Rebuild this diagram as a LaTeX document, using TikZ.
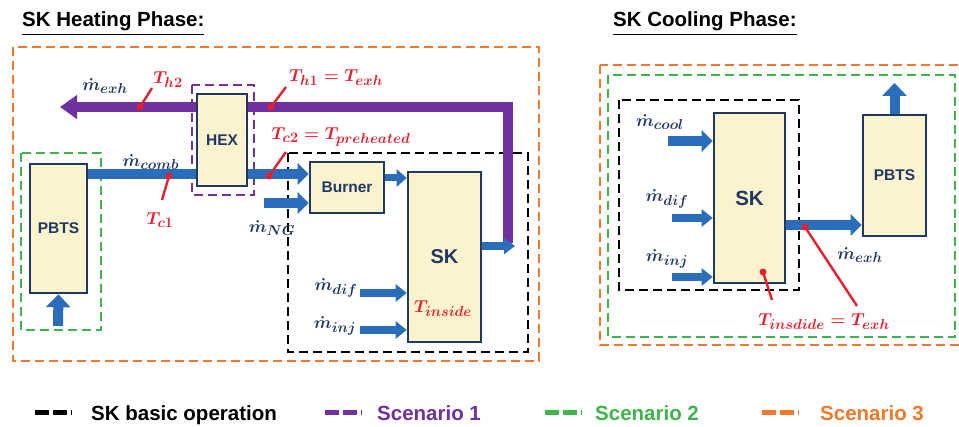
\documentclass[tikz,border=0pt]{standalone}
\usepackage{amsmath,bm}
\usepackage[no-math]{fontspec}
\setmainfont{Liberation Sans}
\DeclareMathSizes{18}{18}{13.5}{10}
\usetikzlibrary{arrows.meta}
\definecolor{navy}{HTML}{1F3864}
\definecolor{boxfill}{HTML}{FBF3CD}
\definecolor{flowblue}{HTML}{2A6EBB}
\definecolor{exhpurple}{HTML}{7030A0}
\definecolor{tred}{HTML}{E5202E}
\definecolor{sc3orange}{HTML}{F4782A}
\definecolor{sc2green}{HTML}{3DB54A}
\tikzset{
  unit/.style={draw=navy, line width=2.6pt, fill=boxfill, text=navy,
    font=\bfseries\fontsize{15.5}{17}\selectfont, inner sep=0pt},
  bigflow/.style={draw=flowblue, line width=10pt, -{Triangle[length=11pt,width=21pt]}},
  midflow/.style={draw=flowblue, line width=8pt, -{Triangle[length=11pt,width=17pt]}},
  plainflow/.style={draw=flowblue, line width=10pt},
  upflow/.style={draw=flowblue, line width=10pt, -{Triangle[length=13pt,width=24pt]}},
  scen/.style={line width=2.8pt, dash pattern=on 9pt off 5pt},
  pin/.style={draw=tred, line width=2.4pt},
  pindot/.style={fill=tred, circle, inner sep=0pt, minimum size=7pt},
  mlab/.style={text=navy, font=\fontsize{18}{20}\selectfont\boldmath, inner sep=0pt},
  tlab/.style={text=tred, font=\fontsize{18}{20}\selectfont\boldmath, inner sep=0pt},
  title/.style={font=\bfseries\fontsize{20.5}{22}\selectfont, inner sep=0pt, anchor=base west},
  legtext/.style={font=\bfseries\fontsize{20.5}{22}\selectfont, inner sep=0pt, anchor=base west},
  legdash/.style={line width=5pt, dash pattern=on 14pt off 4pt}
}
\begin{document}
\begin{tikzpicture}[x=1pt,y=-1pt]
\useasboundingbox (0,0) rectangle (959,427);
\fill[white] (0,0) rectangle (959,427);

% titles
\node[title] (th) at (22,27) {\underline{SK Heating Phase:}};
\node[title] (tc) at (613,27) {\underline{SK Cooling Phase:}};

% ================= HEATING =================
\draw[scen, sc3orange] (13,47) rectangle (539,361);
\draw[scen, sc2green] (21,153) rectangle (101,330);
\draw[scen, black] (288,153) rectangle (528,352);

% exhaust (purple) line
\coordinate (exA) at (508,243);
\coordinate (exB) at (508,107);
\coordinate (exEnd) at (60,107);
\draw[exhpurple, line width=10pt, line join=miter, -{Triangle[length=17pt,width=23pt]}]
  (exA) -- (exB) -- (exEnd);

% units
\node[unit, minimum width=57pt, minimum height=129pt] (pbtsH) at (58.5,228.5) {PBTS};
\node[unit, minimum width=50pt, minimum height=92pt] (hex) at (222,140) {HEX};
\node[unit, minimum width=74pt, minimum height=51pt] (burner) at (347,187.5) {Burner};
\node[unit, minimum width=73pt, minimum height=170pt] (skH) at (444.5,257) {};
\node[text=navy, font=\bfseries\fontsize{20}{22}\selectfont] (skHt) at (444.5,257) {SK};
\node[tlab] (tin) at (443,309) {$T_{inside}$};

\draw[scen, exhpurple] (192,85) rectangle (254,195);

% flows
\draw[plainflow] (pbtsH.east |- 0,174) -- (hex.west |- 0,174);
\draw[bigflow] (hex.east |- 0,174) -- (burner.west |- 0,174);
\coordinate (ngS) at (264,203);
\draw[bigflow] (ngS) -- (burner.west |- ngS);
\draw[draw=flowblue, line width=7pt, -{Triangle[length=10pt,width=17pt]}] (burner.east |- 0,178) -- (skH.west |- 0,178);
\coordinate (exhOut) at (515,246);
\draw[draw=flowblue, line width=8pt, -{Triangle[length=11pt,width=16pt]}] (skH.east |- exhOut) -- (exhOut);
\coordinate (difH) at (360,293);
\coordinate (injH) at (360,330);
\draw[midflow] (difH) -- (skH.west |- difH);
\draw[midflow] (injH) -- (skH.west |- injH);
\coordinate (pbtsIn) at (58,326);
\draw[upflow] (pbtsIn) -- (pbtsH.south);

% flow labels
\node[mlab] (lmexh) at (105,86) {$\dot m_{exh}$};
\node[mlab] (lmcomb) at (151,162) {$\dot m_{comb}$};
\node[mlab] (lmng) at (272,228) {$\dot m_{NG}$};
\node[mlab] (lmdif) at (336,288) {$\dot m_{dif}$};
\node[mlab] (lminj) at (335,326) {$\dot m_{inj}$};

% temperature pins
\node[pindot] (dh2) at (140,107) {};
\node[pindot] (dh1) at (271,107) {};
\node[pindot] (dc2) at (269,176) {};
\node[pindot] (dc1) at (169,176) {};
\coordinate (ph2) at (152,88);
\coordinate (ph1) at (286,87);
\coordinate (pc2) at (286,152);
\coordinate (pc1) at (162,200);
\draw[pin] (dh2.center) -- (ph2);
\draw[pin] (dh1.center) -- (ph1);
\draw[pin] (dc2.center) -- (pc2);
\draw[pin] (dc1.center) -- (pc1);
\node[tlab] (lth2) at (168,80) {$T_{h2}$};
\node[tlab] (lth1) at (336,78) {$T_{h1} = T_{exh}$};
\node[tlab] (ltc2) at (341,137) {$T_{c2} = T_{preheated}$};
\node[tlab] (ltc1) at (160,220) {$T_{c1}$};

% ================= COOLING =================
\draw[scen, sc3orange] (600,65) rectangle (968,345);
\draw[scen, sc2green] (608,75) rectangle (955,337);
\draw[scen, black] (619,100) rectangle (799,290);

\node[unit, minimum width=71pt, minimum height=170pt] (skC) at (749.5,198) {};
\node[text=navy, font=\bfseries\fontsize{20.5}{22}\selectfont] (skCt) at (749.5,198) {SK};
\node[unit, minimum width=63pt, minimum height=121pt] (pbtsC) at (894.5,175.5) {PBTS};

\coordinate (coolS) at (668,141);
\coordinate (difS) at (672,218);
\coordinate (injS) at (672,277);
\draw[bigflow] (coolS) -- (skC.west |- coolS);
\draw[midflow] (difS) -- (skC.west |- difS);
\draw[midflow] (injS) -- (skC.west |- injS);
\draw[bigflow] (skC.east |- 0,225) -- (pbtsC.west |- 0,225);
\coordinate (pbtsOut) at (894.5,83);
\draw[upflow] (pbtsC.north) -- (pbtsOut);

\node[mlab] (lmcool) at (660,122) {$\dot m_{cool}$};
\node[mlab] (lmdifC) at (667,199) {$\dot m_{dif}$};
\node[mlab] (lminjC) at (667,259) {$\dot m_{inj}$};
\node[mlab] (lmexhC) at (860,255) {$\dot m_{exh}$};

\node[pindot] (dsk) at (763,272) {};
\node[pindot] (dex) at (805,227) {};
\coordinate (psk) at (772,300);
\coordinate (pex) at (857,306);
\draw[pin] (dsk.center) -- (psk);
\draw[pin] (dex.center) -- (pex);
\node[tlab] (ltc) at (824,322) {$T_{insdide} = T_{exh}$};

% ================= LEGEND =================
\coordinate (lg1a) at (35,413); \coordinate (lg1b) at (72,413);
\coordinate (lg2a) at (325,413); \coordinate (lg2b) at (362,413);
\coordinate (lg3a) at (545,413); \coordinate (lg3b) at (582,413);
\coordinate (lg4a) at (762,413); \coordinate (lg4b) at (799,413);
\draw[legdash, black] (lg1a) -- (lg1b);
\draw[legdash, exhpurple] (lg2a) -- (lg2b);
\draw[legdash, sc2green] (lg3a) -- (lg3b);
\draw[legdash, sc3orange] (lg4a) -- (lg4b);
\node[legtext] (lt1) at (91,421) {SK basic operation};
\node[legtext, text=exhpurple] (lt2) at (377,421) {Scenario 1};
\node[legtext, text=sc2green] (lt3) at (595,421) {Scenario 2};
\node[legtext, text=sc3orange] (lt4) at (820,421) {Scenario 3};
\end{tikzpicture}
\end{document}
